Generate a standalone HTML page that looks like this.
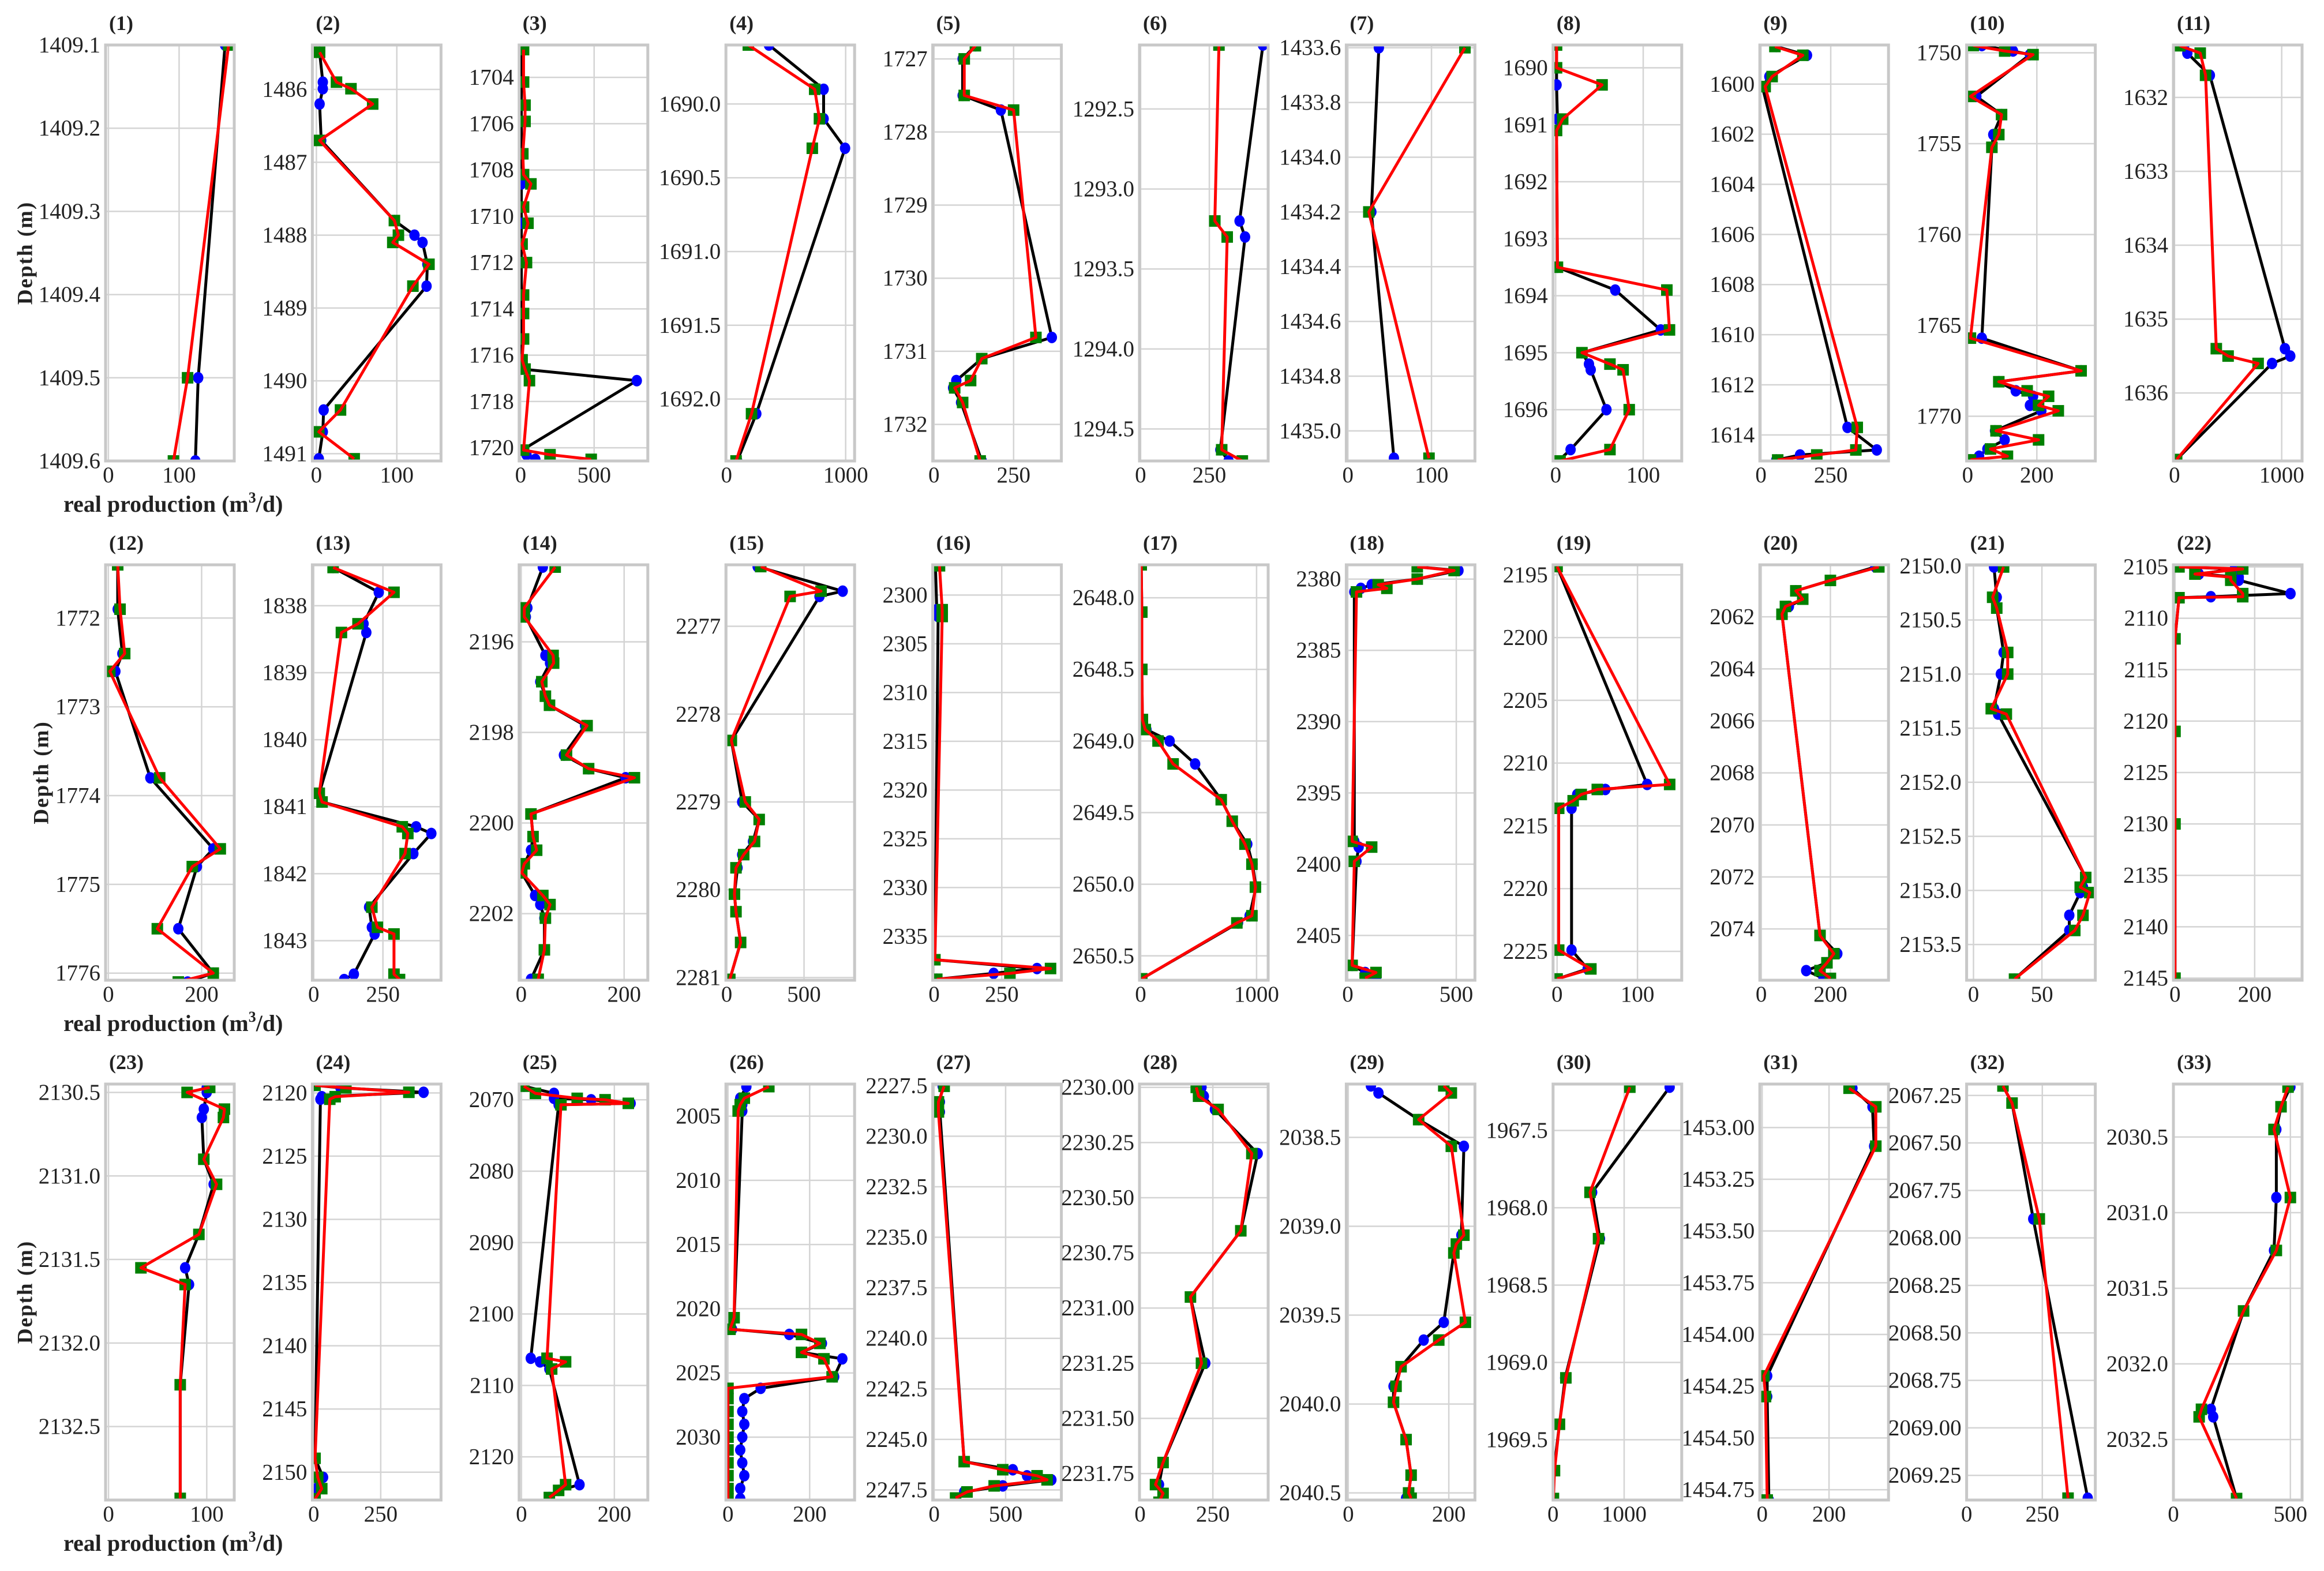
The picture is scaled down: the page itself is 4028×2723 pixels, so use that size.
<!DOCTYPE html>
<html><head><meta charset="utf-8">
<style>
html,body{margin:0;padding:0;background:#fff;}
svg{display:block;}
text{font-family:"Liberation Serif",serif;fill:#222;}
</style></head>
<body>
<svg id="chart" width="4028" height="2723" viewBox="0 0 4028 2723" xmlns="http://www.w3.org/2000/svg">
<rect width="4028" height="2723" fill="#fff"/>
<g id="root"></g>
</svg>
<script>
// ---- data (one entry per panel) ----
const panelDepths = [
[1409.1,1409.5,1409.6],
[1485.49,1485.9,1485.99,1486.2,1486.7,1487.8,1488.0,1488.1,1488.4,1488.7,1490.4,1490.7,1491.07],
[1702.8,1704.2,1705.2,1705.9,1707.3,1708.2,1708.6,1709.6,1710.3,1711.2,1712.0,1713.4,1714.2,1715.3,1716.2,1716.6,1717.1,1720.1,1720.3,1720.5],
[1689.6,1689.9,1690.1,1690.3,1692.1,1692.42],
[1726.82,1727.0,1727.5,1727.7,1730.81,1731.1,1731.4,1731.5,1731.7,1732.5],
[1292.1,1293.2,1293.3,1294.63,1294.7],
[1433.6,1434.2,1435.1],
[1689.6,1690.0,1690.3,1690.9,1691.1,1693.5,1693.9,1694.6,1695.0,1695.2,1695.3,1696.0,1696.7,1696.9],
[1598.5,1598.85,1599.7,1600.1,1613.7,1614.6,1614.8,1615.0],
[1749.6,1749.9,1750.1,1752.4,1753.4,1754.5,1755.2,1765.7,1767.5,1768.1,1768.6,1768.9,1769.4,1769.7,1770.8,1771.3,1771.8,1772.2,1772.4],
[1631.3,1631.4,1631.7,1635.4,1635.5,1635.6,1636.9],
[1771.4,1771.9,1772.4,1772.6,1773.8,1774.6,1774.8,1775.5,1776.0,1776.1],
[1837.43,1837.8,1838.27,1838.4,1840.8,1840.93,1841.3,1841.4,1841.7,1842.5,1842.8,1842.9,1843.5,1843.58],
[2194.35,2195.25,2195.45,2196.3,2196.47,2196.88,2197.2,2197.4,2197.85,2198.5,2198.8,2199.0,2199.8,2200.3,2200.6,2200.9,2201.1,2201.6,2201.8,2202.1,2202.8,2203.45],
[2276.32,2276.6,2276.66,2278.3,2279.0,2279.2,2279.45,2279.6,2279.75,2280.05,2280.25,2280.6,2281.02],
[2297.0,2301.5,2302.2,2337.4,2338.3,2338.8,2339.4],
[2647.77,2648.1,2648.5,2648.85,2648.92,2649.0,2649.16,2649.41,2649.56,2649.72,2649.86,2650.02,2650.22,2650.27,2650.66],
[2379.14,2379.4,2380.0,2380.4,2380.65,2380.9,2398.4,2398.8,2399.8,2407.1,2407.6,2408.0],
[2194.34,2211.7,2212.1,2212.5,2213.0,2213.6,2224.9,2226.4,2227.2],
[2060.08,2060.6,2061.0,2061.32,2061.6,2061.9,2074.25,2074.95,2075.3,2075.6,2075.9],
[2150.01,2150.29,2150.39,2150.8,2151.0,2151.32,2151.37,2152.88,2152.97,2153.02,2153.23,2153.37,2153.82],
[2105.0,2105.2,2105.7,2106.0,2106.3,2107.6,2107.9,2108.0,2112,2121,2130,2145],
[2130.47,2130.5,2130.6,2130.65,2130.9,2131.05,2131.35,2131.55,2131.65,2132.25,2132.93],
[2119.4,2119.6,2119.95,2120.3,2120.5,2148.9,2150.4,2151.3,2152.1],
[2068.1,2069.1,2069.8,2070,2070.5,2070.7,2106.2,2106.7,2107.7,2123.9,2124.7,2125.7],
[2002.7,2003.6,2004.1,2004.6,2020.7,2021.6,2022.0,2022.7,2023.4,2023.9,2025.3,2026.2,2027,2028,2029,2030,2031,2032,2033,2034,2034.8],
[2227.53,2228.3,2228.8,2246.1,2246.5,2246.8,2247.0,2247.3,2247.6,2247.9],
[2230.0,2230.04,2230.1,2230.3,2230.65,2230.95,2231.25,2231.7,2231.8,2231.84,2231.88],
[2038.21,2038.25,2038.4,2038.55,2039.05,2039.1,2039.15,2039.54,2039.64,2039.79,2039.9,2039.99,2040.2,2040.4,2040.5,2040.53],
[1967.22,1967.9,1968.2,1969.1,1969.4,1969.7,1969.88],
[1452.81,1452.9,1453.09,1454.2,1454.3,1454.8],
[2067.2,2067.29,2067.9,2069.37],
[2030.17,2030.3,2030.45,2030.9,2031.25,2031.65,2032.3,2032.35,2032.89]
];
const blackValues = [
[165,127,123],
[4,8,8,4,6,97,122,132,138,137,9,8,3],
[5,5,5,5,5,5,5,5,5,5,5,5,5,5,5,10,790,10,40,100],
[356,815,815,995,250,90],
[130,90,90,210,370,150,70,60,85,150],
[445,360,380,290,320],
[37,28,55],
[1,1,1,2,1,2,68,120,30,38,40,58,17,3],
[55,165,30,5,310,415,140,55],
[41,131,180,25,98,74,70,41,328,90,139,189,180,213,79,107,57,33,8],
[90,120,330,1030,1080,910,20],
[20,20,30,15,90,225,190,150,225,170],
[70,235,180,190,20,30,370,425,360,200,210,220,145,110],
[42,12,9,47,56,37,47,55,124,83,131,203,19,23,19,6,1,27,37,45,45,19],
[200,750,600,30,100,210,170,100,70,50,60,90,20],
[5,10,15,3,380,220,10],
[5,10,10,15,50,250,470,695,790,920,965,995,940,840,10],
[320,510,320,110,60,30,30,50,40,20,80,130],
[0,112,60,25,20,18,18,38,0],
[330,200,100,120,80,60,170,220,190,130,180],
[15,17,17,22,20,15,18,82,80,78,70,70,30],
[10,150,60,160,160,290,90,10,0,0,0,0],
[100,100,97,95,97,107,92,78,82,73,73],
[5,100,410,30,25,5,35,10,5],
[5,70,70,150,235,80,20,40,60,125,80,60],
[45,30,35,35,15,10,150,230,180,280,260,80,40,35,40,35,30,35,40,30,30],
[60,40,40,210,550,650,820,480,210,150],
[211,219,257,404,346,173,224,79,65,79,65],
[45,60,140,230,225,215,210,190,150,105,90,90,115,125,120,115],
[1640,550,660,170,90,10,5],
[270,330,335,15,15,20],
[120,150,220,400],
[500,460,440,440,430,300,160,170,270]
];
const redValues = [
[170,112,92],
[4,25,43,70,4,97,102,95,140,120,30,3,47],
[20,20,30,30,15,20,70,20,50,10,40,20,20,20,10,30,60,20,200,480],
[183,740,780,720,210,80],
[130,95,95,250,320,150,115,65,90,145],
[285,270,315,295,370],
[140,25,97],
[1,1,53,8,1,2,127,130,30,62,77,84,62,5],
[50,150,40,15,345,340,200,60],
[16,107,189,8,98,90,70,8,328,90,172,234,205,262,82,205,66,115,8],
[50,240,290,390,500,780,20],
[20,25,35,3,110,240,180,105,225,150],
[70,290,160,100,20,30,320,340,330,210,230,290,290,310],
[66,6,6,62,63,40,47,55,128,88,131,220,19,23,30,6,1,42,56,47,45,33],
[220,610,410,30,120,210,180,110,60,50,60,90,20],
[20,30,30,3,430,280,10],
[5,10,10,15,40,150,280,695,790,900,960,990,960,830,10],
[320,490,320,140,180,40,20,110,30,20,130,80],
[0,140,50,30,20,2,2,42,0],
[340,200,100,120,70,60,170,210,190,170,200],
[22,14,17,25,25,13,24,82,78,85,80,74,30],
[10,170,50,140,140,170,170,10,0,0,0,0],
[103,80,118,117,97,110,92,33,78,73,73],
[5,120,355,80,60,5,15,30,5],
[5,30,120,180,230,85,55,95,65,95,80,60],
[100,40,30,25,15,5,180,225,180,235,255,0,0,0,0,0,0,0,0,0,0],
[70,30,30,210,480,720,790,420,230,150],
[193,201,268,384,346,173,211,79,53,79,65],
[190,205,140,205,230,215,210,233,180,105,95,90,115,125,120,125],
[1080,520,640,180,90,20,5],
[260,340,340,5,10,15],
[120,150,240,335],
[490,460,430,500,440,300,120,110,270]
];
const yLimits = [
[1409.1,1409.6],[1485.39,1491.1],[1702.6,1720.57],[1689.6,1692.42],[1726.81,1732.5],[1292.1,1294.7],[1433.59,1435.11],[1689.6,1696.9],[1598.44,1615.04],[1749.57,1772.46],[1631.29,1636.92],
[1771.4,1776.08],[1837.39,1843.59],[2194.3,2203.47],[2276.3,2281.03],[2296.9,2339.5],[2647.77,2650.67],[2379.0,2408.14],[2194.2,2227.3],[2060.0,2075.97],[2149.99,2153.83],[2104.8,2145.2],
[2130.45,2132.94],[2119.3,2152.2],[2067.8,2126.05],[2002.5,2034.9],[2227.42,2248.0],[2229.985,2231.87],[2038.2,2040.54],[1967.2,1969.89],[1452.79,1454.8],[2067.19,2069.38],[2030.15,2032.9]
];
const xLimits = [
[-4,178],[-5,155],[-10,865],[-5,1075],[-4,400],[-4,464],[-2,152],[-3,144],[-4,457],[-3,369],[-10,1190],
[-6,270],[-5,460],[-4,246],[-5,827],[-5,470],[-10,1100],[-7,586],[-5,155],[-4,368],[-5,89],[-4,319],
[-3,128],[-5,475],[-5,272],[-5,310],[-10,890],[-2,440],[-4,252],[0,1810],[-7,378],[0,425],[0,550]
];
const yTickStart = [1409.1,1486,1704,1690,1727,1292.5,1433.6,1690,1600,1750,1632, 1772,1838,2196,2277,2300,2648,2380,2195,2062,2150,2105, 2130.5,2120,2070,2005,2227.5,2230,2038.5,1967.5,1453,2067.25,2030.5];
const yTickEnd   = [1409.6,1491,1720,1692,1732,1294.5,1435.0,1696,1614,1770,1636, 1776,1843,2202,2281,2335,2650.5,2405,2225,2074,2153.5,2145, 2132.5,2150,2120,2030,2247.5,2231.75,2040.5,1969.5,1454.75,2069.25,2032.5];
const yTickStep  = [0.1,1,2,0.5,1,0.5,0.2,1,2,5,1, 1,1,2,1,5,0.5,5,5,2,0.5,5, 0.5,5,10,5,2.5,0.25,0.5,0.5,0.25,0.25,0.5];
const yTickDecimals = [1,0,0,1,0,1,1,0,0,0,0, 0,0,0,0,0,1,0,0,0,1,0, 1,0,0,0,1,2,1,1,2,2,1];
const xTicks = [[0,100],[0,100],[0,500],[0,1000],[0,250],[0,250],[0,100],[0,100],[0,250],[0,200],[0,1000],
[0,200],[0,250],[0,200],[0,500],[0,250],[0,1000],[0,500],[0,100],[0,200],[0,50],[0,200],
[0,100],[0,250],[0,200],[0,200],[0,500],[0,250],[0,200],[0,1000],[0,200],[0,250],[0,500]];

// ---- layout ----
const NS = "http://www.w3.org/2000/svg";
const root = document.getElementById('root');
const rowTop = [78, 979, 1879], rowBot = [799, 1699, 2600];
const colLeft0 = 183, colStep = 358.4, panelW = 223;
function mk(tag, attrs, parent){
  const e = document.createElementNS(NS, tag);
  for (const k in attrs) e.setAttribute(k, attrs[k]);
  (parent||root).appendChild(e);
  return e;
}
const defs = mk('defs', {});
for (let p = 0; p < 33; p++) {
  const row = Math.floor(p/11), col = p % 11;
  const L = colLeft0 + col*colStep, R = L + panelW, T = rowTop[row], B = rowBot[row];
  const [y0, y1] = yLimits[p], [x0, x1] = xLimits[p];
  const sx = v => L + (v - x0) / (x1 - x0) * (R - L);
  const sy = d => T + (d - y0) / (y1 - y0) * (B - T);
  const g = mk('g', {});
  
  
  const cp = mk('clipPath', {id: 'cp' + p}, defs);
  mk('rect', {x: L, y: T, width: R-L, height: B-T}, cp);
  // title
  const t = mk('text', {x: L + 6, y: T - 26, 'font-size': 36, 'font-weight': 'bold'}, g);
  t.textContent = '(' + (p+1) + ')';
  
  
  // grid y
  const nT = Math.round((yTickEnd[p] - yTickStart[p]) / yTickStep[p]);
  for (let i = 0; i <= nT; i++) {
    const d = yTickStart[p] + i*yTickStep[p];
    const y = sy(d);
    const gl = mk('line', {x1: L, x2: R, y1: y, y2: y, stroke: '#d4d4d4', 'stroke-width': 2.5}, g);
    
    
    const tl = mk('text', {x: L - 9, y: y, 'font-size': 39, 'text-anchor': 'end', 'dominant-baseline': 'central'}, g);
    tl.textContent = d.toFixed(yTickDecimals[p]);
    
    
  }
  for (const v of xTicks[p]) {
    const x = sx(v);
    const gl = mk('line', {x1: x, x2: x, y1: T, y2: B, stroke: '#d4d4d4', 'stroke-width': 2.5}, g);
    
    
    const tl = mk('text', {x: x, y: B + 37, 'font-size': 39, 'text-anchor': 'middle'}, g);
    tl.textContent = String(v);
    
    
  }
  const plot = mk('g', {'clip-path': 'url(#cp' + p + ')'}, g);
  const D = panelDepths[p], Bv = blackValues[p], Rv = redValues[p];
  const bl = mk('polyline', {points: D.map((d,i)=>sx(Bv[i])+','+sy(d)).join(' '), fill: 'none', stroke: '#000', 'stroke-width': 5, 'stroke-linejoin': 'round'}, plot);
  
  
  D.forEach((d,i) => {
    const c = mk('ellipse', {cx: sx(Bv[i]), cy: sy(d), rx: 9, ry: 10, fill: '#0000ff'}, plot);
    
    
  });
  D.forEach((d,i) => {
    const s = mk('rect', {x: sx(Rv[i]) - 10, y: sy(d) - 10, width: 20, height: 20, fill: '#008000'}, plot);
    
    
  });
  const rl = mk('polyline', {points: D.map((d,i)=>sx(Rv[i])+','+sy(d)).join(' '), fill: 'none', stroke: '#ff0000', 'stroke-width': 5, 'stroke-linejoin': 'round'}, plot);
  
  
  const fr = mk('rect', {x: L, y: T, width: R-L, height: B-T, fill: 'none', stroke: '#c8c8c8', 'stroke-width': 5}, g);
  
  
}
// axis titles
const yLabX = [44, 72, 44];
for (let r = 0; r < 3; r++) {
  const cy = (rowTop[r] + rowBot[r]) / 2;
  const yl = mk('text', {x: yLabX[r], y: cy, 'font-size': 37, 'font-weight': 'bold', 'text-anchor': 'middle', 'dominant-baseline': 'central', 'letter-spacing': 2, transform: 'rotate(-90 ' + yLabX[r] + ' ' + cy + ')'});
  yl.textContent = 'Depth (m)';
  
  
  const xl = mk('text', {x: 110, y: rowBot[r] + 88, 'font-size': 40, 'font-weight': 'bold'});
  xl.innerHTML = 'real production (m<tspan dy="-16" font-size="26">3</tspan><tspan dy="16">/d)</tspan>';
  
  
}
</script>
</body></html>
